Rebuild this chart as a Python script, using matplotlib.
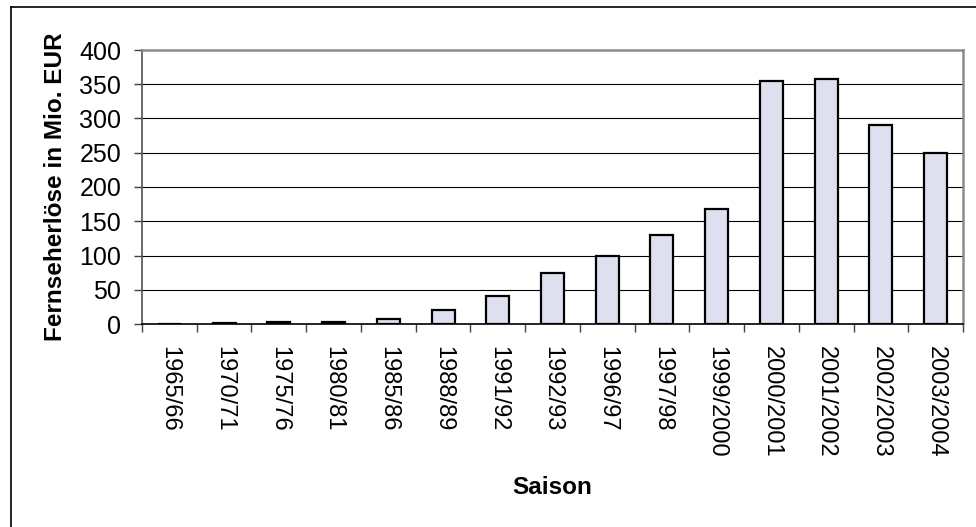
import numpy as np
import matplotlib
matplotlib.use("Agg")
import matplotlib.pyplot as plt
from matplotlib.lines import Line2D

plt.rcParams['font.family'] = ['Liberation Sans', 'DejaVu Sans']

seasons = ['1965/66', '1970/71', '1975/76', '1980/81', '1985/86', '1988/89',
           '1991/92', '1992/93', '1996/97', '1997/98', '1999/2000',
           '2000/2001', '2001/2002', '2002/2003', '2003/2004']
revenue = [0.5, 1.3, 2.5, 3.5, 6.6, 20.5, 41, 74, 100, 130, 168,
           355, 358, 290, 250]
y_ticks = [0, 50, 100, 150, 200, 250, 300, 350, 400]

fig = plt.figure(figsize=(9.76, 5.27), dpi=100)
ax = fig.add_axes([142/976, 1-324/527, 821/976, 274/527])

x = np.arange(len(seasons))
ax.bar(x, revenue, width=0.42, color='#dfe0ef', edgecolor='black',
       linewidth=1.6, zorder=3)

ax.set_xlim(-0.5, len(seasons)-0.5)
ax.set_ylim(0, 400)
ax.set_yticks(y_ticks)
ax.set_yticklabels([str(t) for t in y_ticks], fontsize=18)
for t in y_ticks[1:-1]:
    ax.axhline(t, color='black', lw=0.8, zorder=1)

# excel style: tick marks between categories, labels centred
ax.set_xticks(np.arange(len(seasons)+1) - 0.5)
ax.set_xticklabels([])
ax.set_xticks(x, minor=True)
ax.set_xticklabels(seasons, minor=True, rotation=270, fontsize=17,
                   ha='center', va='top')
ax.tick_params(axis='x', which='minor', length=0, pad=16)
ax.tick_params(axis='x', which='major', length=6, width=1, color='#404040')
ax.tick_params(axis='y', length=6, width=1, pad=9, color='#404040')

for s in ['top', 'right']:
    ax.spines[s].set_color('#8c8c8c')
    ax.spines[s].set_linewidth(1.8)
ax.spines['left'].set_color('#505050')
ax.spines['left'].set_linewidth(1.2)
ax.spines['bottom'].set_color('black')
ax.spines['bottom'].set_linewidth(1.2)

ax.set_ylabel('Fernseherlöse in Mio. EUR', fontsize=17.5, fontweight='bold')
ax.yaxis.set_label_coords((67-142)/821, 0.5)
ax.set_xlabel('Saison', fontsize=17.5, fontweight='bold')
ax.xaxis.set_label_coords(0.5, (324-476)/274)

# chart area border (cut off at right/bottom)
fig.add_artist(Line2D([11/976, 11/976], [0, 1-7/527], transform=fig.transFigure,
                      color='black', lw=1.2))
fig.add_artist(Line2D([11/976, 1], [1-7/527, 1-7/527], transform=fig.transFigure,
                      color='black', lw=1.2))

fig.savefig('out.png', dpi=100)
